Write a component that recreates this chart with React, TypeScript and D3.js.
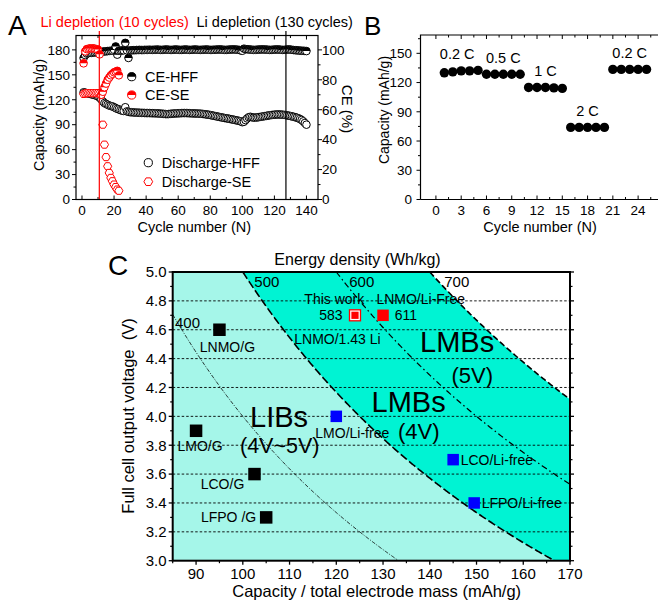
import React from "react";
import * as d3 from "d3";

const FONT = "'Liberation Sans', Arial, Helvetica, sans-serif";

// ---------------- Panel A data (cycle n = index + 1) ----------------
const dischargeHFF = [
  129, 128.5, 128, 127.5, 127, 126.5, 126, 125.5, 125, 124,
  122.5, 120.5, 118, 116, 115, 114, 113, 112.5, 112, 111,
  110, 109, 108.5, 107.5, 107, 106.5, 111, 106, 105.5, 105,
  105, 104.8, 104.6, 104.5, 104.5, 104.3, 104.2, 104.2, 104.1, 104,
  104, 104, 103.9, 103.8, 103.8, 103.7, 103.6, 103.5, 103.3, 103.2,
  103, 102.8, 102.7, 102.8, 103, 103.2, 103.4, 103.5, 103.6, 103.7,
  103.8, 103.9, 104, 104, 104, 103.9, 103.8, 103.7, 103.6, 103.5,
  103.5, 103.4, 103.3, 103.2, 103, 102.8, 102.5, 102.2, 102, 101.6,
  101.2, 100.8, 100.4, 100, 99.6, 99.2, 98.8, 98.4, 98, 97.7,
  97.4, 97, 96.6, 96.2, 95.8, 95.4, 95, 94.5, 94, 93,
  93.5, 95.5, 97.5, 99, 99.5, 99, 98.5, 98.5, 98.7, 99,
  99.3, 99.6, 100, 100.3, 100.6, 101, 101.3, 101.6, 101.8, 102,
  102.2, 102.3, 102.3, 102.2, 102, 101.8, 101.5, 101.2, 100.8, 100.4,
  100, 99.5, 99, 98.4, 97.7, 96.8, 95.6, 94, 92, 90,
];
const ceHFF = [
  94.5, 96.5, 97.5, 97.8, 98, 98, 98.2, 98.3, 98.3, 98.4,
  98.5, 98.6, 98.8, 99, 99, 99.2, 99.3, 99.4, 99.5, 100,
  102.3, 96.8, 99.4, 99.5, 99.6, 99.7, 104.7, 99.7, 94.6, 99.6,
  99.7, 99.8, 99.8, 99.9, 99.9, 100, 99.9, 99.9, 100, 100,
  100, 100.1, 100, 100, 100.1, 100.1, 100.2, 100.1, 100, 100,
  100.1, 100.2, 100.2, 100.1, 100, 100, 100.1, 100.2, 100.2, 100.1,
  100, 100, 100.1, 100.2, 100.2, 100.1, 100, 100, 100.1, 100.2,
  100.2, 100.1, 100, 100, 100.1, 100.1, 100.2, 100.2, 100.1, 100,
  100, 100.1, 100.1, 100.2, 100.2, 100.3, 100.2, 100.1, 100, 100,
  100.1, 100.2, 100.2, 100.3, 100.3, 100.2, 100.1, 100, 99.6, 99.4,
  100.8, 100.5, 100.4, 100.3, 100.2, 100.1, 100, 100, 100.1, 100.2,
  100.2, 100.3, 100.3, 100.2, 100.2, 100.1, 100, 100, 100.1, 100.2,
  100.2, 100.3, 100.2, 100.1, 100, 100, 100.1, 100.2, 100.3, 100.2,
  100, 99.9, 99.8, 99.7, 99.6, 99.5, 99.4, 99.4, 99.3, 99.2,
];
const dischargeSE = [
  127, 127.5, 128, 128, 128, 128, 128, 128, 128, 128,
  127.5, 126, 90, 66, 51, 40, 32, 26, 22, 18,
  15, 12, 10.5,
];
const ceSE = [
  91, 99, 100.5, 100.8, 101, 101, 101, 100.8, 100.5, 100.2,
  97, 70, 72, 75, 77.5, 80, 81.5, 83, 84, 85,
  85.5, 86, 83,
];
const depletionCycles = [10.8, 127.2];
const depletionLabels = ["Li depletion (10 cycles)", "Li depletion (130 cycles)"];
const depletionColors = ["#ff0000", "#000000"];
const ticksAx = [0, 20, 40, 60, 80, 100, 120, 140];
const ticksAy = [0, 30, 60, 90, 120, 150, 180];
const ticksAce = [0, 20, 40, 60, 80, 100];
const legendA = ["CE-HFF", "CE-SE", "Discharge-HFF", "Discharge-SE"];

// ---------------- Panel B data ----------------
const rateLabels = ["0.2 C", "0.5 C", "1 C", "2 C", "0.2 C"];
const rateCapacity = [
  130, 131, 132, 132, 132.5,
  128.5, 128.5, 128.5, 128.5, 128.5,
  115, 115, 115, 114.5, 114,
  74, 74, 74, 74, 74,
  133.5, 133.5, 133.5, 133.5, 133.5,
];
const ticksBx = [0, 3, 6, 9, 12, 15, 18, 21, 24];
const ticksBy = [0, 30, 60, 90, 120, 150];

// ---------------- Panel C data ----------------
const energyLevels = [400, 500, 600, 700];
const cellNames = ["LNMO/G", "LMO/G", "LCO/G", "LFPO /G", "LMO/Li-free", "LCO/Li-free", "LFPO/Li-free", "LNMO/Li-Free", "This work"];
const cellCapacity = [95, 90, 102.5, 105, 120, 145, 149.5, 130, 124];
const cellVoltage = [4.6, 3.9, 3.6, 3.3, 4.0, 3.7, 3.4, 4.7, 4.7];
const cellKind = ["graphite", "graphite", "graphite", "graphite", "lifree", "lifree", "lifree", "lnmo", "thiswork"];
const cellEnergyText = ["", "", "", "", "", "", "", "611", "583"];
const ticksCx = [90, 100, 110, 120, 130, 140, 150, 160, 170];
const ticksCy = [3.0, 3.2, 3.4, 3.6, 3.8, 4.0, 4.2, 4.4, 4.6, 4.8, 5.0];

// layout for labels (px offsets from point)
const cellLabelLayout = [
  { dx: 8, dy: 22, anchor: "middle" },
  { dx: 4, dy: 20, anchor: "middle" },
  { dx: -32, dy: 15, anchor: "middle" },
  { dx: -10, dy: 5, anchor: "end" },
  { dx: 16, dy: 22, anchor: "middle" },
  { dx: 7.5, dy: 5, anchor: "start" },
  { dx: 7.5, dy: 5, anchor: "start" },
  { dx: -6.6, dy: -11, anchor: "start" },
  { dx: -20.7, dy: -11, anchor: "middle" },
];
const kindColor: Record<string, string> = { graphite: "#000000", lifree: "#0000ff", lnmo: "#ff0000", thiswork: "#ff0000" };
const energyStyles = [
  { w: 0.8, dash: "4,1.5,1,1.5" },
  { w: 1.6, dash: "8,3" },
  { w: 1.2, dash: "6,3,1.5,3" },
  { w: 1.6, dash: "6,3" },
];

const halfTop = (r: number) => `M${-r},0A${r},${r} 0 0 1 ${r},0Z`;
const hexPath = (r: number) =>
  "M" + d3.range(6).map((k) => [r * Math.cos((Math.PI / 3) * k), r * Math.sin((Math.PI / 3) * k)].join(",")).join("L") + "Z";

function VTicks({ s, vals, at, len, sw = 1 }: any) {
  return (
    <g stroke="#000" strokeWidth={sw}>
      {vals.map((v: number, i: number) => (
        <line key={i} x1={s(v)} x2={s(v)} y1={at} y2={at + len} />
      ))}
    </g>
  );
}
function HTicks({ s, vals, at, len, sw = 1 }: any) {
  return (
    <g stroke="#000" strokeWidth={sw}>
      {vals.map((v: number, i: number) => (
        <line key={i} y1={s(v)} y2={s(v)} x1={at} x2={at + len} />
      ))}
    </g>
  );
}

export default function App() {
  // ---------- Panel A scales ----------
  const xA = d3.scaleLinear().domain([-3.74, 147.2]).range([76, 318]);
  const yA = d3.scaleLinear().domain([0, 197.3]).range([199.5, 35.5]);
  const yA2 = d3.scaleLinear().domain([0, 197.3 / 1.8]).range([199.5, 35.5]);
  const rA = 3.8;

  // ---------- Panel B scales ----------
  const xB = d3.scaleLinear().domain([-1.83, 26.3]).range([420.5, 657.5]);
  const yB = d3.scaleLinear().domain([0, 168.8]).range([199.5, 35]);

  // ---------- Panel C scales ----------
  const xC = d3.scaleLinear().domain([85, 170]).range([172.7, 570]);
  const yC = d3.scaleLinear().domain([3, 5]).range([560.7, 272]);
  const capSamples = d3.range(85, 170.001, 0.25);
  const areaFor = (E: number) =>
    d3
      .area<number>()
      .x((c) => xC(c))
      .y0(yC(3))
      .y1((c) => yC(Math.max(3, Math.min(5, E / c))))(capSamples) as string;
  const lineFor = (E: number) => {
    const c0 = Math.max(85, E / 5);
    const c1 = Math.min(170, E / 3);
    const cs = d3.range(c0, c1, 0.25).concat([c1]);
    return d3
      .line<number>()
      .x((c) => xC(c))
      .y((c) => yC(E / c))(cs) as string;
  };

  const fsTick = 13.5;

  return (
    <svg width={658} height={602} style={{ position: "absolute", left: 0, top: 0 }} fontFamily={FONT}>
      <rect x={0} y={0} width={658} height={602} fill="#fff" />

      {/* ================= Panel A ================= */}
      <text x={8} y={35} fontSize={28}>A</text>
      {depletionCycles.map((c, i) => (
        <text key={i} x={i === 0 ? 40.5 : 196.5} y={27} fontSize={14.5} fill={depletionColors[i]}>
          {depletionLabels[i]}
        </text>
      ))}
      {/* ticks */}
      <VTicks s={xA} vals={ticksAx} at={199.5} len={-4} />
      <VTicks s={xA} vals={d3.range(10, 150, 20)} at={199.5} len={-2.5} />
      <VTicks s={xA} vals={ticksAx} at={35.5} len={4} />
      <VTicks s={xA} vals={d3.range(10, 150, 20)} at={35.5} len={2.5} />
      <HTicks s={yA} vals={ticksAy} at={76} len={-4} />
      <HTicks s={yA} vals={d3.range(15, 195, 30)} at={76} len={-2.5} />
      <HTicks s={yA2} vals={ticksAce} at={318} len={4} />
      <HTicks s={yA2} vals={d3.range(10, 110, 20)} at={318} len={2.5} />
      {ticksAx.map((v) => (
        <text key={v} x={xA(v)} y={215} fontSize={fsTick} textAnchor="middle">{v}</text>
      ))}
      {ticksAy.map((v) => (
        <text key={v} x={70} y={yA(v) + 4.8} fontSize={fsTick} textAnchor="end">{v}</text>
      ))}
      {ticksAce.map((v) => (
        <text key={v} x={322} y={yA2(v) + 4.8} fontSize={fsTick} textAnchor="start">{v}</text>
      ))}
      <text x={xA(70)} y={232} fontSize={14.5} textAnchor="middle">Cycle number (N)</text>
      <text transform={`translate(44,115) rotate(-90)`} fontSize={14.5} textAnchor="middle">Capacity (mAh/g)</text>
      <text transform={`translate(342,109) rotate(90)`} fontSize={15} textAnchor="middle">CE (%)</text>

      {/* data A */}
      <g>
        {dischargeHFF.map((v, i) => (
          <circle key={i} cx={xA(i + 1)} cy={yA(v)} r={rA} fill="#fff" stroke="#000" strokeWidth={1} />
        ))}
      </g>
      <g>
        {ceHFF.map((v, i) => (
          <g key={i} transform={`translate(${xA(i + 1)},${yA2(v)})`}>
            <circle r={rA} fill="#fff" stroke="#000" strokeWidth={1} />
            <path d={halfTop(rA)} fill="#000" />
          </g>
        ))}
      </g>
      <g>
        {dischargeSE.map((v, i) => (
          <path key={i} d={hexPath(rA + 0.3)} transform={`translate(${xA(i + 1)},${yA(v)})`} fill="#fff" stroke="#ff0000" strokeWidth={1} />
        ))}
      </g>
      <g>
        {ceSE.map((v, i) => (
          <g key={i} transform={`translate(${xA(i + 1)},${yA2(v)})`}>
            <circle r={rA} fill="#fff" stroke="#ff0000" strokeWidth={1} />
            <path d={halfTop(rA)} fill="#ff0000" />
          </g>
        ))}
      </g>
      {depletionCycles.map((c, i) => (
        <line key={i} x1={xA(c)} x2={xA(c)} y1={31} y2={199.5} stroke={depletionColors[i]} strokeWidth={1.2} />
      ))}
      <rect x={76} y={35.5} width={242} height={164} fill="none" stroke="#000" strokeWidth={1.2} />

      {/* legend A */}
      <g transform="translate(131.7,76.7)">
        <circle r={rA + 0.3} fill="#fff" stroke="#000" />
        <path d={halfTop(rA + 0.3)} fill="#000" />
      </g>
      <text x={145} y={81.9} fontSize={14.5}>{legendA[0]}</text>
      <g transform="translate(131.7,95)">
        <circle r={rA + 0.3} fill="#fff" stroke="#ff0000" />
        <path d={halfTop(rA + 0.3)} fill="#ff0000" />
      </g>
      <text x={145} y={100.2} fontSize={14.5}>{legendA[1]}</text>
      <circle cx={148.3} cy={162.7} r={rA + 0.3} fill="#fff" stroke="#000" />
      <text x={161.7} y={167.9} fontSize={14.5}>{legendA[2]}</text>
      <path d={hexPath(rA + 0.6)} transform="translate(148.3,181.7)" fill="#fff" stroke="#ff0000" />
      <text x={161.7} y={186.9} fontSize={14.5}>{legendA[3]}</text>

      {/* ================= Panel B ================= */}
      <text x={364} y={35} fontSize={26}>B</text>
      <VTicks s={xB} vals={ticksBx} at={199.5} len={-4} />
      <VTicks s={xB} vals={d3.range(1.5, 26, 3)} at={199.5} len={-2.5} />
      <VTicks s={xB} vals={ticksBx} at={35} len={4} />
      <VTicks s={xB} vals={d3.range(1.5, 26, 3)} at={35} len={2.5} />
      <HTicks s={yB} vals={ticksBy} at={420.5} len={-4} />
      <HTicks s={yB} vals={d3.range(15, 170, 30)} at={420.5} len={-2.5} />
      {ticksBx.map((v) => (
        <text key={v} x={xB(v)} y={215} fontSize={fsTick} textAnchor="middle">{v}</text>
      ))}
      {ticksBy.map((v) => (
        <text key={v} x={412} y={yB(v) + 4.8} fontSize={fsTick} textAnchor="end">{v}</text>
      ))}
      <text x={540} y={232} fontSize={14.5} textAnchor="middle">Cycle number (N)</text>
      <text transform={`translate(388.5,110) rotate(-90)`} fontSize={14} textAnchor="middle">Capacity (mAh/g)</text>
      <polyline points="420.5,199.5 420.5,35 658,35" fill="none" stroke="#000" strokeWidth={1.2} />
      <line x1={420.5} x2={658} y1={199.5} y2={199.5} stroke="#000" strokeWidth={1.2} />
      {rateCapacity.map((v, i) => (
        <circle key={i} cx={xB(i + 1)} cy={yB(v)} r={4.7} fill="#000" />
      ))}
      {rateLabels.map((lab, g) => {
        const grp = rateCapacity.slice(g * 5, g * 5 + 5);
        const cx = xB(g * 5 + 3) - (g === 0 ? 4 : 0);
        const top = yB(d3.max(grp) as number);
        return (
          <text key={g} x={cx} y={top - 11.5} fontSize={14.5} textAnchor="middle">{lab}</text>
        );
      })}

      {/* ================= Panel C ================= */}
      <text x={108} y={275} fontSize={28}>C</text>
      <defs>
        <clipPath id="clipC">
          <rect x={172.7} y={272} width={397.3} height={288.7} />
        </clipPath>
      </defs>
      <g clipPath="url(#clipC)">
        <rect x={172.7} y={272} width={397.3} height={288.7} fill="#ffffff" />
        <path d={areaFor(energyLevels[3])} fill="#00f3d3" />
        <path d={areaFor(energyLevels[1])} fill="#a5f6e9" />
        {ticksCy.slice(1, -1).map((v) => (
          <line key={v} x1={172.7} x2={570} y1={yC(v)} y2={yC(v)} stroke="#000" strokeWidth={0.9} strokeDasharray="2.5,2" />
        ))}
        {energyLevels.map((E, i) => (
          <path key={E} d={lineFor(E)} fill="none" stroke="#000" strokeWidth={energyStyles[i].w} strokeDasharray={energyStyles[i].dash} />
        ))}
      </g>
      {/* energy labels */}
      <text x={175} y={328} fontSize={15}>{energyLevels[0]}</text>
      {energyLevels.slice(1).map((E, i) => (
        <text key={E} x={xC(E / 5) + 11.5 + i * 1.5} y={287} fontSize={15}>{E}</text>
      ))}
      <text x={357.5} y={265} fontSize={16} textAnchor="middle">Energy density (Wh/kg)</text>

      {/* big region labels */}
      <text x={250} y={427} fontSize={29}>LIBs</text>
      <text x={240} y={452.5} fontSize={21.5}>(4V~5V)</text>
      <text x={420} y={352} fontSize={29}>LMBs</text>
      <text x={451.5} y={383} fontSize={22}>(5V)</text>
      <text x={371.5} y={412} fontSize={29}>LMBs</text>
      <text x={398} y={438.5} fontSize={22}>(4V)</text>

      {/* cells */}
      {cellNames.map((name, i) => {
        const px = xC(cellCapacity[i]);
        const py = yC(cellVoltage[i]);
        const k = cellKind[i];
        const L = cellLabelLayout[i];
        let mark;
        if (k === "thiswork") {
          mark = (
            <g>
              <rect x={px - 5.5} y={py - 5.5} width={11} height={11} fill="#fff" stroke="#ff0000" strokeWidth={1.3} />
              <rect x={px - 3.6} y={py - 3.6} width={7.2} height={7.2} fill="#ff0000" />
            </g>
          );
        } else {
          const s = k === "graphite" ? 12.5 : k === "lifree" ? 11.5 : 11.5;
          mark = <rect x={px - s / 2} y={py - s / 2} width={s} height={s} fill={kindColor[k]} />;
        }
        return (
          <g key={i}>
            {mark}
            <text x={px + L.dx} y={py + L.dy} fontSize={14} textAnchor={L.anchor as any}>{name}</text>
            {cellEnergyText[i] && (
              <text x={k === "thiswork" ? px - 12.4 : px + 11.7} y={py + 5} fontSize={14} textAnchor={k === "thiswork" ? "end" : "start"}>
                {cellEnergyText[i]}
              </text>
            )}
            {k === "thiswork" && (
              <text x={px - 60.7} y={py + 29} fontSize={14}>LNMO/1.43 Li</text>
            )}
          </g>
        );
      })}

      {/* axes C */}
      <VTicks s={xC} vals={ticksCx} at={560.7} len={4} sw={1.3} />
      <VTicks s={xC} vals={d3.range(85, 171, 10)} at={560.7} len={2.5} sw={1.2} />
      <HTicks s={yC} vals={ticksCy} at={172.7} len={-4} sw={1.3} />
      <HTicks s={yC} vals={d3.range(3.1, 5, 0.2)} at={172.7} len={-2.5} sw={1.2} />
      <HTicks s={yC} vals={ticksCy} at={570} len={4} sw={1.3} />
      <HTicks s={yC} vals={d3.range(3.1, 5, 0.2)} at={570} len={2.5} sw={1.2} />
      <rect x={172.7} y={272} width={397.3} height={288.7} fill="none" stroke="#000" strokeWidth={2} />
      {ticksCx.map((v) => (
        <text key={v} x={xC(v)} y={578.5} fontSize={15} textAnchor="middle">{v}</text>
      ))}
      {ticksCy.map((v) => (
        <text key={v} x={166.5} y={yC(v) + 5.3} fontSize={15} textAnchor="end">{v.toFixed(1)}</text>
      ))}
      <text x={376.7} y={597} fontSize={16.5} textAnchor="middle">Capacity / total electrode mass (mAh/g)</text>
      <text transform={`translate(134,416) rotate(-90)`} fontSize={16.5} textAnchor="middle" xmlSpace="preserve">Full cell output voltage  (V)</text>
    </svg>
  );
}
